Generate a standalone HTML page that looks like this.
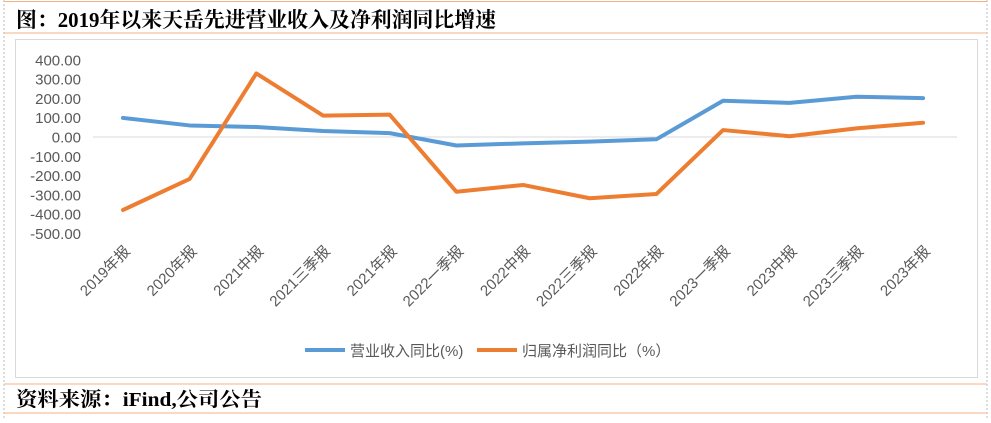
<!DOCTYPE html>
<html><head><meta charset="utf-8">
<style>
body{margin:0;background:#fff;width:991px;height:418px;overflow:hidden;font-family:"Liberation Sans","Noto Sans CJK SC",sans-serif;}
svg text{font-family:"Liberation Sans","Noto Sans CJK SC",sans-serif;}
</style></head><body>
<svg width="991" height="418">
<line x1="4" y1="0" x2="4" y2="418" stroke="#bbb" stroke-dasharray="2,2"/>
<line x1="987" y1="0" x2="987" y2="418" stroke="#bbb" stroke-dasharray="2,2"/>
<line x1="4" y1="1.5" x2="987" y2="1.5" stroke="#f4b183"/>
<line x1="4" y1="33" x2="987" y2="33" stroke="#f4b183"/>
<text x="16" y="27" font-size="21" font-weight="bold" fill="#000" textLength="480" lengthAdjust="spacingAndGlyphs" style="font-family:'Liberation Serif','Noto Serif CJK SC',serif">图：2019年以来天岳先进营业收入及净利润同比增速</text>
<rect x="15.5" y="39.5" width="962" height="338" fill="#fff" stroke="#d9d9d9"/>
<g id="axes"></g>
<g id="series"></g>
<g>
<line x1="305" y1="350" x2="345" y2="350" stroke="#5b9bd5" stroke-width="4"/>
<text x="350" y="356" font-size="15" fill="#595959">营业收入同比(%)</text>
<line x1="477" y1="350" x2="517" y2="350" stroke="#ed7d31" stroke-width="4"/>
<text x="522" y="356" font-size="15" fill="#595959">归属净利润同比（%）</text>
</g>
<line x1="4" y1="384" x2="987" y2="384" stroke="#f4b183"/>
<line x1="4" y1="413" x2="987" y2="413" stroke="#f4b183"/>
<text x="16" y="406" font-size="20" font-weight="bold" fill="#000" textLength="246" lengthAdjust="spacingAndGlyphs" style="font-family:'Liberation Serif','Noto Serif CJK SC',serif">资料来源：iFind,公司公告</text>
</svg>
<script>
const categories=["2019年报","2020年报","2021中报","2021三季报","2021年报","2022一季报","2022中报","2022三季报","2022年报","2023一季报","2023中报","2023三季报","2023年报"];
const revenueYoY=[99,60,52,31,20,-44,-33,-24,-12,188,177,209,202];
const profitYoY=[-379,-218,330,111,116,-284,-249,-318,-296,36,4,45,74];
const yTicks=[400,300,200,100,0,-100,-200,-300,-400,-500];
const NS="http://www.w3.org/2000/svg";
const x0=123,dx=66.67,yZero=137,k=0.1926;
function xs(i){return x0+i*dx;}
function ys(v){return yZero-v*k;}
const axes=document.getElementById('axes');
const series=document.getElementById('series');
const zl=document.createElementNS(NS,'line');
zl.setAttribute('x1',93);zl.setAttribute('x2',957);zl.setAttribute('y1',ys(0));zl.setAttribute('y2',ys(0));
zl.setAttribute('stroke','#d9d9d9');


axes.appendChild(zl);
yTicks.forEach(v=>{
 const t=document.createElementNS(NS,'text');
 t.setAttribute('x',81);t.setAttribute('y',ys(v)+5.5);t.setAttribute('text-anchor','end');
 t.setAttribute('font-size','15');t.setAttribute('fill','#595959');
 t.textContent=v.toFixed(2);
 
 
 axes.appendChild(t);
});
categories.forEach((c,i)=>{
 const t=document.createElementNS(NS,'text');
 const x=xs(i)+8,y=252;
 t.setAttribute('x',x);t.setAttribute('y',y);t.setAttribute('text-anchor','end');
 t.setAttribute('font-size','15');t.setAttribute('fill','#595959');
 t.setAttribute('transform','rotate(-45 '+x+' '+y+')');
 t.textContent=c;
 
 
 axes.appendChild(t);
});
function line(vals,color,name){
 const p=document.createElementNS(NS,'polyline');
 p.setAttribute('points',vals.map((v,i)=>xs(i)+','+ys(v)).join(' '));
 p.setAttribute('fill','none');p.setAttribute('stroke',color);p.setAttribute('stroke-width','4');
 p.setAttribute('stroke-linejoin','round');p.setAttribute('stroke-linecap','round');
 
 
 series.appendChild(p);
}
line(revenueYoY,'#5b9bd5','revenue-yoy-line');
line(profitYoY,'#ed7d31','profit-yoy-line');
</script>
</body></html>
